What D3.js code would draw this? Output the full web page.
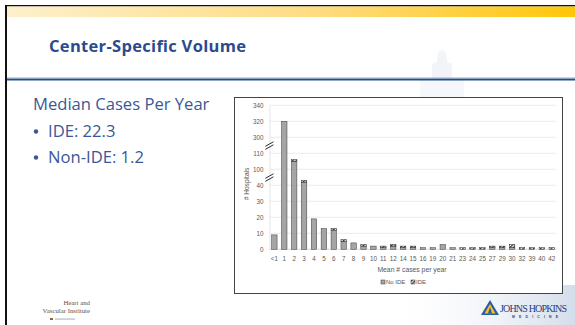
<!DOCTYPE html>
<html>
<head>
<meta charset="utf-8">
<script src="https://d3js.org/d3.v7.min.js"></script>
<style>
  body { margin: 0; background: #fff; }
  svg { display: block; }
</style>
</head>
<body>
<svg id="slide"></svg>
<script>
// categories on the x axis (mean # cases per year)
var categories = ["<1","1","2","3","4","5","6","7","8","9","10","11","12","14","15","16","19","20","21","23","24","25","27","29","30","32","39","40","42"];
// hospitals without IDE
var noIde = [9,320,105,42,19,13,12,5,4,2,2,1,2,1,1,1,1,3,1,0,0,0,1,1,1,0,0,0,0];
// hospitals with IDE
var ide   = [0,0,1,1,0,0,1,1,0,1,0,1,1,1,1,0,0,0,0,1,1,1,1,1,2,1,1,1,1];
// broken y axis tick labels
var yTicks = [0,10,20,30,40,100,110,300,320,340];

var seriesNames = ["No IDE", "IDE"];
var bullets = ["IDE: 22.3", "Non-IDE: 1.2"];

function init() {
    var width = 575, height = 325;
    var svg = d3.select('#slide')
        .attr("width", width)
        .attr("height", height);

    var defs = svg.append('defs');

    // gold band on the top of the slide
    var gold = defs.append('linearGradient').attr('id', 'gold');
    gold.append('stop').attr('offset', '0%').attr('stop-color', '#fdf0cc');
    gold.append('stop').attr('offset', '55%').attr('stop-color', '#fedc80');
    gold.append('stop').attr('offset', '100%').attr('stop-color', '#ffc709');

    var wash = defs.append('linearGradient').attr('id', 'wash')
        .attr('x1', '0%').attr('y1', '0%').attr('x2', '100%').attr('y2', '0%');
    wash.append('stop').attr('offset', '0%').attr('stop-color', '#ffffff').attr('stop-opacity', 0);
    wash.append('stop').attr('offset', '100%').attr('stop-color', '#cfd9e8').attr('stop-opacity', 0.9);

    // pattern for the IDE part of the bars
    var pat = defs.append('pattern')
        .attr('id', 'idePattern')
        .attr('width', 2.5).attr('height', 2.5)
        .attr('patternUnits', 'userSpaceOnUse')
        .attr('patternTransform', 'rotate(45)');
    pat.append('rect').attr('width', 2.5).attr('height', 2.5).attr('fill', '#ffffff');
    pat.append('rect').attr('width', 1.3).attr('height', 2.5).attr('fill', '#333333');

    // slide background decoration
    svg.append('rect').attr('x', 380).attr('y', 285).attr('width', 195).attr('height', 40)
        .attr('fill', 'url(#wash)');
    svg.append('path')
        .attr('d', 'M440,22 L442,50 L438,52 L437,62 L432,64 L432,80 L452,80 L452,64 L447,62 L446,52 L442,50 Z')
        .attr('fill', '#f2f4f8');
    svg.append('rect').attr('x', 420).attr('y', 80).attr('width', 44).attr('height', 20).attr('fill', '#f5f7fa');

    // frame: top black line, gold band, left border
    svg.append('rect').attr('x', 5).attr('y', 5).attr('width', 570).attr('height', 1.5).attr('fill', '#111');
    svg.append('rect').attr('x', 6).attr('y', 6.5).attr('width', 569).attr('height', 10.5).attr('fill', 'url(#gold)');
    svg.append('rect').attr('x', 5).attr('y', 5).attr('width', 2).attr('height', 320).attr('fill', '#111');

    // title and rule
    svg.append('text')
        .attr('x', 49).attr('y', 52)
        .attr('font-family', '"Open Sans", Lato, sans-serif')
        .attr('font-weight', 'bold')
        .attr('font-size', 16.5)
        .attr('textLength', 197)
        .attr('fill', '#2a4b8d')
        .text('Center-Specific Volume');
    svg.append('rect').attr('x', 7).attr('y', 77.3).attr('width', 568).attr('height', 0.8).attr('fill', '#b8c3d6');
    svg.append('rect').attr('x', 7).attr('y', 78.5).attr('width', 568).attr('height', 2).attr('fill', '#1f4f8f');

    // left text block
    var textCol = '#3a5896';
    svg.append('text')
        .attr('x', 33).attr('y', 110)
        .attr('font-family', '"Open Sans", Lato, sans-serif')
        .attr('font-size', 16.6)
        .attr('fill', textCol)
        .text('Median Cases Per Year');
    svg.selectAll('.bul')
        .data(bullets)
        .enter()
        .append('g')
        .attr('class', 'bul')
        .attr('transform', function (d, i) { return `translate(0,${137 + i * 26})`; })
        .each(function (d) {
            var g = d3.select(this);
            g.append('circle').attr('cx', 36).attr('cy', -5.5).attr('r', 2.2).attr('fill', textCol);
            g.append('text')
                .attr('x', 48).attr('y', 0)
                .attr('font-family', '"Open Sans", Lato, sans-serif')
                .attr('font-size', 16.6)
                .attr('fill', textCol)
                .text(d);
        });

    // chart box
    svg.append('rect')
        .attr('x', 234.5).attr('y', 97.5).attr('width', 328).attr('height', 196)
        .attr('fill', '#fff')
        .attr('stroke', '#444').attr('stroke-width', 1);

    var axisCol = '#595959';
    var y0 = 249.3, step = 16;

    var xScale = d3.scaleBand()
        .domain(categories)
        .range([269.4, 556.7])
        .paddingInner(0.45)
        .paddingOuter(0.225);

    // piecewise scale for the broken axis
    var yScale = d3.scaleLinear()
        .domain([0, 45, 95, 115, 290, 340])
        .range([y0, y0 - 4.5 * step, y0 - 4.5 * step, y0 - 6.5 * step, y0 - 6.5 * step, y0 - 9 * step]);

    var chartArea = svg.append('g');

    // gridlines
    chartArea.append('g').selectAll('line')
        .data(yTicks)
        .enter()
        .append('line')
        .attr('x1', 269.4).attr('x2', 556.7)
        .attr('y1', function (d) { return yScale(d); })
        .attr('y2', function (d) { return yScale(d); })
        .attr('stroke', function (d) { return d === 0 ? '#c8c8c8' : '#e3e3e3'; })
        .attr('stroke-width', 0.7);

    // y axis
    var yAxis = chartArea.append('g')
        .attr('transform', 'translate(269.4,0)')
        .call(d3.axisLeft(yScale).tickValues(yTicks).tickSize(0).tickPadding(6));
    yAxis.select('.domain').attr('stroke', '#d9d9d9').attr('stroke-width', 0.7);
    yAxis.selectAll('text')
        .attr('font-family', '"Liberation Sans", Arial, sans-serif')
        .attr('font-size', 6.3)
        .attr('fill', axisCol);

    // x axis
    var xAxis = chartArea.append('g')
        .attr('transform', `translate(0,${y0})`)
        .call(d3.axisBottom(xScale).tickSize(0).tickPadding(7));
    xAxis.select('.domain').remove();
    xAxis.selectAll('text')
        .attr('font-family', '"Liberation Sans", Arial, sans-serif')
        .attr('font-size', 6.3)
        .attr('fill', axisCol);

    // stacked bars
    var rows = categories.map(function (c, i) { return {cat: c, no: noIde[i], ide: ide[i]}; });

    chartArea.append('g').selectAll('rect')
        .data(rows.filter(function (d) { return d.no > 0; }))
        .enter()
        .append('rect')
        .attr('x', function (d) { return xScale(d.cat); })
        .attr('width', xScale.bandwidth())
        .attr('y', function (d) { return yScale(d.no); })
        .attr('height', function (d) { return yScale(0) - yScale(d.no); })
        .attr('fill', '#a5a5a5')
        .attr('stroke', '#3a3a3a')
        .attr('stroke-width', 0.5);

    chartArea.append('g').selectAll('rect')
        .data(rows.filter(function (d) { return d.ide > 0; }))
        .enter()
        .append('rect')
        .attr('x', function (d) { return xScale(d.cat); })
        .attr('width', xScale.bandwidth())
        .attr('y', function (d) { return yScale(d.no + d.ide); })
        .attr('height', function (d) { return yScale(d.no) - yScale(d.no + d.ide); })
        .attr('fill', 'url(#idePattern)')
        .attr('stroke', '#2a2a2a')
        .attr('stroke-width', 0.5);

    // axis break marks
    chartArea.append('g').selectAll('g')
        .data([4.5, 6.5])
        .enter()
        .append('g')
        .attr('transform', function (d) { return `translate(269.4,${y0 - d * step})`; })
        .each(function () {
            var g = d3.select(this);
            g.append('polygon').attr('points', '-4,1 4,-3.5 4,-0.5 -4,4').attr('fill', '#fff');
            g.append('line').attr('x1', -4).attr('y1', 1).attr('x2', 4).attr('y2', -3.5)
                .attr('stroke', '#111').attr('stroke-width', 0.9);
            g.append('line').attr('x1', -4).attr('y1', 4).attr('x2', 4).attr('y2', -0.5)
                .attr('stroke', '#111').attr('stroke-width', 0.9);
        });

    // axis titles
    chartArea.append('text')
        .attr('transform', 'translate(249,184) rotate(-90)')
        .attr('text-anchor', 'middle')
        .attr('font-family', '"Liberation Sans", Arial, sans-serif')
        .attr('font-size', 6.6)
        .attr('fill', axisCol)
        .text('# Hospitals');
    chartArea.append('text')
        .attr('x', 412).attr('y', 271.5)
        .attr('text-anchor', 'middle')
        .attr('font-family', '"Liberation Sans", Arial, sans-serif')
        .attr('font-size', 6.8)
        .attr('fill', axisCol)
        .text('Mean # cases per year');

    // legend
    var legend = chartArea.append('g').attr('transform', 'translate(381,284)');
    var legendItems = legend.selectAll('g')
        .data(seriesNames)
        .enter()
        .append('g')
        .attr('transform', function (d, i) { return `translate(${i * 30},0)`; });
    legendItems.append('rect')
        .attr('x', 0).attr('y', -4).attr('width', 4).attr('height', 4)
        .attr('fill', function (d, i) { return i === 0 ? '#a5a5a5' : 'url(#idePattern)'; })
        .attr('stroke', '#3a3a3a').attr('stroke-width', 0.5);
    legendItems.append('text')
        .attr('x', 5).attr('y', 0)
        .attr('font-family', '"Liberation Sans", Arial, sans-serif')
        .attr('font-size', 6)
        .attr('fill', axisCol)
        .text(function (d) { return d; });

    // footer: Heart and Vascular Institute
    var hvi = svg.append('g')
        .attr('font-family', '"Liberation Serif", "DejaVu Serif", serif')
        .attr('fill', '#555')
        .attr('text-anchor', 'end');
    hvi.append('text').attr('x', 90).attr('y', 305).attr('font-size', 6.8).text('Heart and');
    hvi.append('text').attr('x', 90).attr('y', 312.5).attr('font-size', 6.8).text('Vascular Institute');
    svg.append('rect').attr('x', 50).attr('y', 318).attr('width', 3).attr('height', 2).attr('fill', '#8a6d2d');
    svg.append('rect').attr('x', 55).attr('y', 318.6).attr('width', 20).attr('height', 0.9).attr('fill', '#9aa3b3');

    // footer: Johns Hopkins Medicine
    svg.append('path').attr('d', 'M490,300 L499,315 L481,315 Z').attr('fill', '#2b5aa8');
    svg.append('path').attr('d', 'M490,304 L495.5,313.5 L484.5,313.5 Z').attr('fill', '#f3c21b');
    svg.append('path').attr('d', 'M490,307 L492,313.5 L488,313.5 Z').attr('fill', '#2b5aa8');
    svg.append('text')
        .attr('x', 500).attr('y', 311.5)
        .attr('font-family', '"Liberation Serif", "DejaVu Serif", serif')
        .attr('font-size', 10)
        .attr('fill', '#1d3c7a')
        .attr('textLength', 67)
        .text('JOHNS HOPKINS');
    svg.append('text')
        .attr('x', 512).attr('y', 317.5)
        .attr('font-family', '"Liberation Sans", Arial, sans-serif')
        .attr('font-size', 3.4)
        .attr('font-weight', 'bold')
        .attr('fill', '#1d3c7a')
        .attr('textLength', 46)
        .text('M E D I C I N E');
}

init();
</script>
</body>
</html>
